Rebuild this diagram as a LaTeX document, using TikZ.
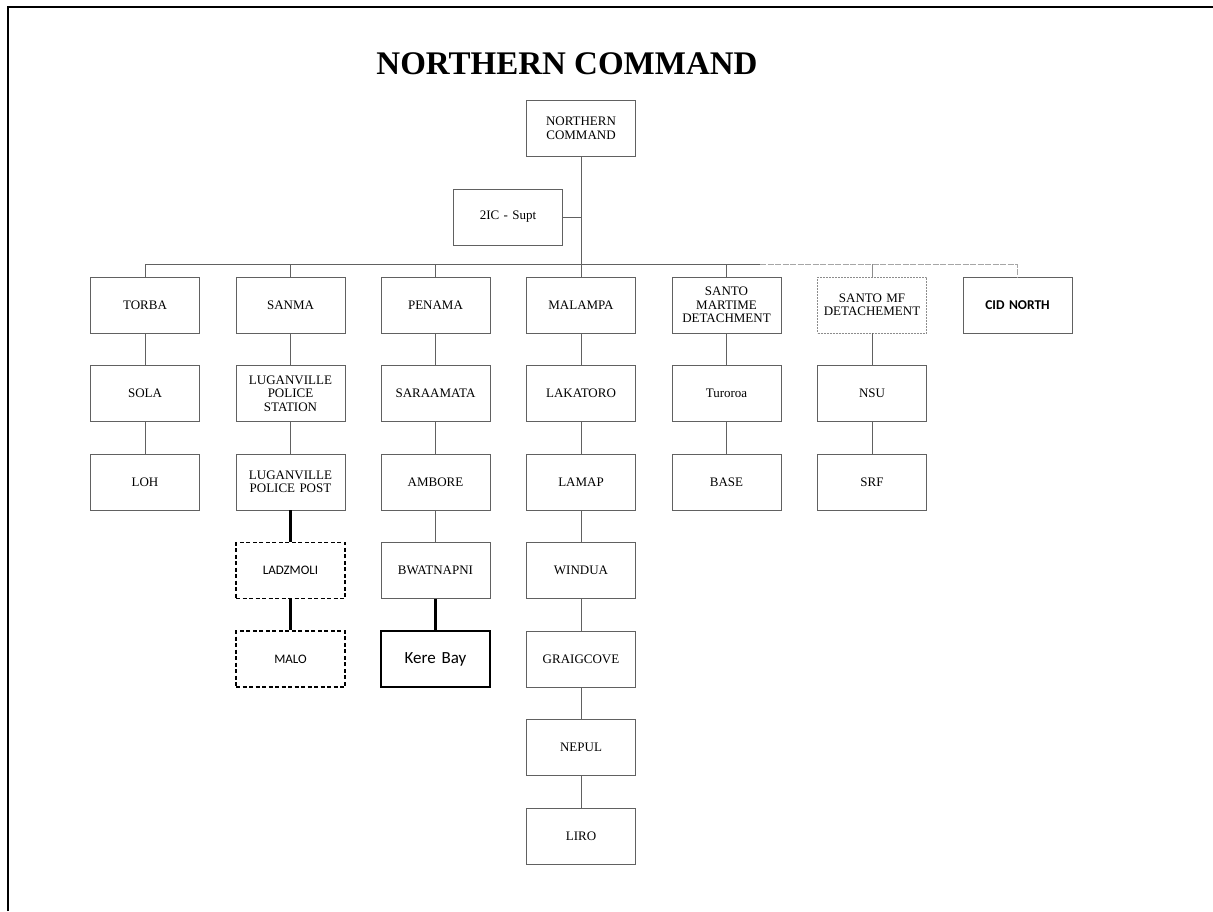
\documentclass[tikz,border=0pt]{standalone}
\usepackage{fontspec}
\setmainfont{Liberation Serif}
\newfontfamily\calib{Carlito}
\tikzset{
  unit/.style={draw=black!62, line width=0.8pt, minimum width=109pt, minimum height=56pt,
    inner sep=1pt, align=center, text width=105pt, font=\fontsize{13}{13.5}\selectfont},
  dashunit/.style={unit, draw=black, dash pattern=on 4pt off 2.5pt, line width=1.4pt,
    font=\calib\fontsize{13}{14}\selectfont},
  heavyunit/.style={unit, draw=black, line width=1.8pt, font=\calib\fontsize{17}{18}\selectfont},
  faintunit/.style={unit, draw=black!45, dash pattern=on 2pt off 1pt},
  link/.style={draw=black!62, line width=0.8pt},
  faintlink/.style={draw=black!35, line width=0.8pt, dash pattern=on 6pt off 1.5pt},
  heavylink/.style={draw=black, line width=2.2pt}
}
\begin{document}
\begin{tikzpicture}[x=1pt,y=-1pt]
\useasboundingbox (0,0) rectangle (1213,911);

% page frame
\draw[line width=1.8pt] (8,911) -- (8,7) -- (1213,7);

% title
\node[font=\bfseries\fontsize{33}{36}\selectfont] (title) at (567,64) {NORTHERN COMMAND};

% command level
\node[unit] (nc) at (581,128.5) {NORTHERN\\COMMAND};
\node[unit] (ic) at (508,217) {2IC - Supt};

% first row
\node[unit] (torba)   at (145,305)   {TORBA};
\node[unit] (sanma)   at (290.5,305) {SANMA};
\node[unit] (penama)  at (435.5,305) {PENAMA};
\node[unit] (malampa) at (581,305)   {MALAMPA};
\node[unit] (smd)     at (726.5,305) {SANTO\\MARTIME\\DETACHMENT};
\node[faintunit] (smf) at (872,305)  {SANTO MF\\DETACHEMENT};
\node[unit, font=\calib\bfseries\fontsize{13.5}{14}\selectfont] (cid) at (1017.5,305) {CID NORTH};

% TORBA column
\node[unit] (sola) at (145,393.5) {SOLA};
\node[unit] (loh)  at (145,482)   {LOH};

% SANMA column
\node[unit] (lps)   at (290.5,393.5) {LUGANVILLE\\POLICE\\STATION};
\node[unit] (lpp)   at (290.5,482)   {LUGANVILLE\\POLICE POST};
\node[dashunit] (ladz) at (290.5,570.5) {LADZMOLI};
\node[dashunit] (malo) at (290.5,659)   {MALO};

% PENAMA column
\node[unit] (sara) at (435.5,393.5) {SARAAMATA};
\node[unit] (ambo) at (435.5,482)   {AMBORE};
\node[unit] (bwat) at (435.5,570.5) {BWATNAPNI};
\node[heavyunit] (kere) at (435.5,659) {Kere Bay};

% MALAMPA column
\node[unit] (laka)  at (581,393.5) {LAKATORO};
\node[unit] (lamap) at (581,482)   {LAMAP};
\node[unit] (wind)  at (581,570.5) {WINDUA};
\node[unit] (graig) at (581,659)   {GRAIGCOVE};
\node[unit] (nepul) at (581,747.5) {NEPUL};
\node[unit] (liro)  at (581,836)   {LIRO};

% SANTO MARTIME column
\node[unit] (turo) at (726.5,393.5) {Turoroa};
\node[unit] (base) at (726.5,482)   {BASE};

% SANTO MF column
\node[unit] (nsu) at (872,393.5) {NSU};
\node[unit] (srf) at (872,482)   {SRF};

% bus
\coordinate (bus) at (581,264);
\coordinate (busbreak) at (760,264);
\draw[link] (nc.south) -- (nc.south |- bus);
\draw[link] (ic.east) -- (ic.east -| nc.south);
\draw[link] (torba.north) -- (torba.north |- bus) -- (busbreak);
\draw[faintlink] (busbreak) -- (cid.north |- bus) -- (cid.north);
\foreach \n in {sanma,penama,malampa,smd}
  \draw[link] (\n.north) -- (\n.north |- bus);
\draw[draw=black!45, line width=0.8pt] (smf.north) -- (smf.north |- bus);

% column links
\draw[link] (torba.south) -- (sola.north);
\draw[link] (sola.south) -- (loh.north);
\draw[link] (sanma.south) -- (lps.north);
\draw[link] (lps.south) -- (lpp.north);
\draw[heavylink] (lpp.south) -- (ladz.north);
\draw[heavylink] (ladz.south) -- (malo.north);
\draw[link] (penama.south) -- (sara.north);
\draw[link] (sara.south) -- (ambo.north);
\draw[link] (ambo.south) -- (bwat.north);
\draw[heavylink] (bwat.south) -- (kere.north);
\draw[link] (malampa.south) -- (laka.north);
\draw[link] (laka.south) -- (lamap.north);
\draw[link] (lamap.south) -- (wind.north);
\draw[link] (wind.south) -- (graig.north);
\draw[link] (graig.south) -- (nepul.north);
\draw[link] (nepul.south) -- (liro.north);
\draw[link] (smd.south) -- (turo.north);
\draw[link] (turo.south) -- (base.north);
\draw[link] (smf.south) -- (nsu.north);
\draw[link] (nsu.south) -- (srf.north);
\end{tikzpicture}
\end{document}
